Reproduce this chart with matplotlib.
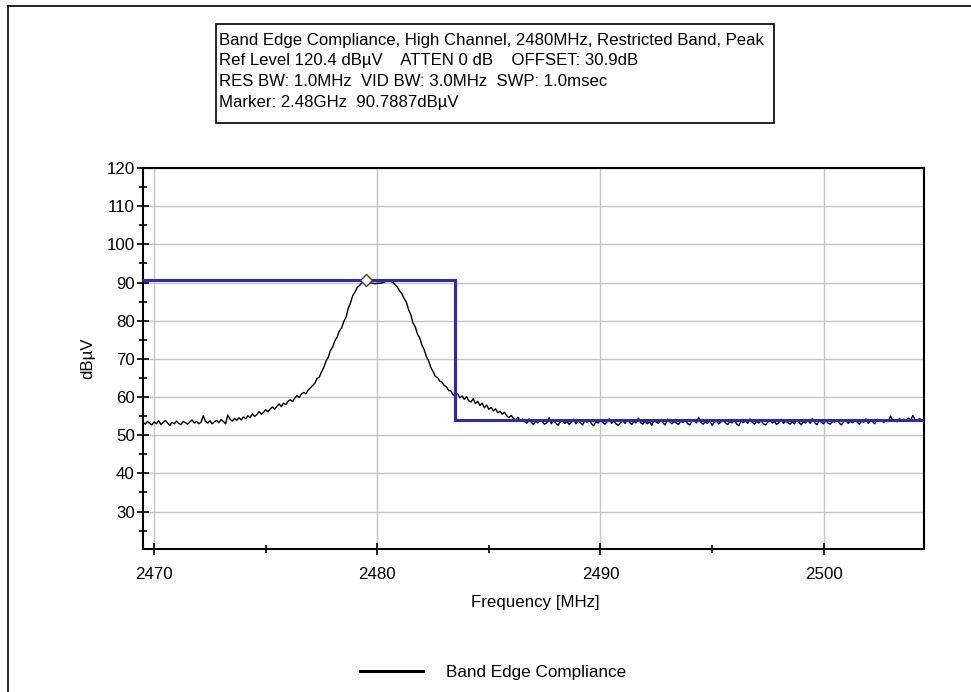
import numpy as np
import matplotlib
matplotlib.use("Agg")
import matplotlib.pyplot as plt
from matplotlib.lines import Line2D
from matplotlib.patches import Rectangle

plt.rcParams['font.family'] = ['Liberation Sans', 'DejaVu Sans']

# Sweep span (MHz) and measured trace (dBuV), one reading every 0.1 MHz
span_start = 2469.5
span_stop = 2504.5
trace_dbuv = [
    # 2469.5 - 2474.0
    53.4, 52.9, 53.6, 53.1, 52.7, 53.5, 53.0, 53.8, 52.8, 53.3,
    53.9, 53.2, 52.6, 53.4, 53.0, 53.7, 53.1, 52.8, 53.6, 53.3,
    52.9, 53.5, 54.0, 53.2, 53.6, 53.0, 53.4, 55.1, 53.6, 53.2,
    53.8, 53.0, 53.5, 53.9, 53.3, 54.1, 53.6, 53.0, 55.3, 54.2,
    53.7, 54.4, 53.9, 54.6, 54.0, 54.8,
    # 2474.1 - 2477.0
    54.3, 55.1, 54.6, 55.6, 54.9, 55.4, 56.2, 55.5, 56.0, 56.7,
    56.1, 56.9, 57.4, 56.8, 57.6, 58.2, 57.5, 58.4, 58.0, 58.9,
    59.3, 58.8, 59.7, 60.4, 59.9, 60.8, 61.2, 60.9, 61.8, 62.4,
    # 2477.1 - 2479.5
    63.0, 63.6, 64.9, 65.2, 66.6, 67.7, 69.4, 70.4, 72.2, 73.1,
    74.8, 75.7, 77.3, 78.1, 79.8, 80.9, 83.3, 84.7, 86.6, 87.5,
    88.7, 89.2, 89.9, 90.2, 90.7887,
    # 2479.6 - 2480.8
    90.2, 89.9, 89.8, 89.7, 89.8, 89.8, 89.9, 90.1, 90.3, 90.4,
    90.3, 90.0, 89.4,
    # 2480.9 - 2483.5
    88.8, 87.8, 87.1, 85.8, 84.9, 82.9, 81.6, 79.4, 78.4, 76.5,
    75.5, 73.6, 72.4, 70.6, 69.5, 67.7, 66.7, 65.4, 65.1, 64.2,
    63.9, 63.0, 62.7, 61.7, 61.6, 60.5, 60.6,
    # 2483.6 - 2486.5
    60.9, 59.8, 60.3, 59.4, 60.1, 59.0, 58.7, 59.6, 58.3, 58.9,
    57.8, 58.4, 57.2, 57.9, 56.8, 57.3, 56.4, 56.9, 55.9, 56.3,
    55.5, 56.0, 55.1, 54.6, 55.2, 54.4, 54.0, 54.7, 53.8, 54.2,
    # 2486.6 - 2504.5
    53.6, 53.1, 54.3, 53.4, 52.8, 53.7, 53.2, 54.0, 53.5, 52.9,
    53.3, 54.6, 53.0, 53.8, 53.2, 52.6, 53.5, 53.9, 53.1, 53.6,
    52.8, 53.4, 54.2, 53.0, 53.7, 53.3, 52.7, 53.8, 53.4, 54.1,
    53.0, 52.5, 53.6, 53.2, 53.9, 53.4, 52.9, 53.5, 54.4, 53.1,
    53.7, 53.0, 52.6, 53.3, 53.8, 53.1, 54.0, 53.4, 52.8, 53.6,
    53.2, 54.5, 53.3, 52.9, 53.7, 53.0, 53.5, 52.6, 53.9, 53.4,
    53.1, 53.8, 53.3, 52.7, 54.2, 53.5, 53.0, 53.6, 53.2, 52.8,
    53.7, 53.3, 54.0, 53.1, 52.7, 53.6, 53.9, 53.2, 54.7, 53.4,
    52.9, 53.5, 53.1, 53.8, 52.6, 53.4, 53.7, 53.0, 53.5, 54.1,
    53.3, 52.8, 53.6, 53.2, 53.9, 53.0, 52.5, 53.7, 53.3, 53.8,
    53.1, 54.3, 53.4, 52.9, 53.6, 53.2, 53.8, 53.0, 52.7, 53.5,
    53.9, 53.2, 53.6, 52.8, 53.4, 54.2, 53.1, 53.7, 53.3, 52.9,
    53.5, 53.0, 54.0, 53.4, 52.7, 53.6, 53.2, 53.9, 53.1, 54.4,
    53.3, 52.8, 53.7, 53.4, 53.0, 53.8, 53.2, 52.9, 53.6, 53.4,
    54.1, 53.2, 52.7, 53.5, 53.9, 53.1, 53.6, 53.3, 54.0, 53.5,
    52.9, 53.7, 53.4, 54.3, 53.1, 53.8, 53.5, 53.0, 54.2, 53.6,
    53.9, 53.3, 54.1, 53.6, 55.0, 53.8, 54.0, 53.5, 54.4, 53.9,
    54.2, 53.7, 54.5, 53.9, 55.2, 54.1, 53.8, 54.4, 53.6, 54.0,
]

# Limit / display line: marker level up to the restricted band edge, then 54 dBuV
band_edge_mhz = 2483.5
marker_freq_mhz = 2479.5
marker_level_dbuv = 90.7887
restricted_limit_dbuv = 54.0
limit_freqs = [span_start, band_edge_mhz, band_edge_mhz, span_stop]
limit_levels = [marker_level_dbuv, marker_level_dbuv, restricted_limit_dbuv, restricted_limit_dbuv]

x_ticks = [2470, 2480, 2490, 2500]
y_ticks = [30, 40, 50, 60, 70, 80, 90, 100, 110, 120]

header_lines = [
    "Band Edge Compliance, High Channel, 2480MHz, Restricted Band, Peak",
    "Ref Level 120.4 dB\u00b5V    ATTEN 0 dB    OFFSET: 30.9dB",
    "RES BW: 1.0MHz  VID BW: 3.0MHz  SWP: 1.0msec",
    "Marker: 2.48GHz  90.7887dB\u00b5V",
]

W, H = 971, 692
fig = plt.figure(figsize=(W / 100, H / 100), dpi=100)
fig.patch.set_facecolor("white")


def fx(px):
    return px / W


def fy(py):
    return 1 - py / H


ax = fig.add_axes([fx(143), fy(549), fx(924) - fx(143), fy(168) - fy(549)])

freqs = np.linspace(span_start, span_stop, len(trace_dbuv))
ax.plot(freqs, trace_dbuv, color="black", lw=1.0, zorder=3)
ax.plot(limit_freqs, limit_levels, color="#2a2ab8", lw=2.2, zorder=4,
        solid_joinstyle="miter")
ax.plot([marker_freq_mhz], [marker_level_dbuv], marker="D", ms=6.5,
        mfc="white", mec="#404040", mew=1.0, zorder=5)

ax.set_xlim(span_start, span_stop)
ax.set_ylim(20.2, 120)
ax.set_xticks(x_ticks)
ax.set_yticks(y_ticks)
ax.set_xticks([2475, 2485, 2495], minor=True)
ax.set_yticks(np.arange(25, 120, 10), minor=True)
ax.grid(True, which="major", color="#c4c4c4", lw=1.0, zorder=0)
ax.tick_params(which="major", direction="inout", length=8, width=1.2,
               labelsize=12.2, colors="black")
ax.tick_params(which="minor", direction="inout", length=6, width=1.2)
ax.tick_params(axis="x", which="major", pad=9)
ax.tick_params(axis="y", which="major", pad=2)
for s in ax.spines.values():
    s.set_linewidth(1.5)
    s.set_color("black")

fig.text(fx(88), fy(358), "dB\u00b5V", rotation=90, ha="center", va="center", fontsize=12.2)
fig.text(fx(535), fy(603), "Frequency [MHz]", ha="center", va="center", fontsize=12.2)

# Header box with instrument settings
fig.patches.append(Rectangle((fx(216), fy(123)), fx(774) - fx(216), fy(24) - fy(123),
                             transform=fig.transFigure, fill=False,
                             edgecolor="black", lw=1.2))
for i, line in enumerate(header_lines):
    fig.text(fx(219), fy(40 + i * 20.8), line, ha="left", va="center", fontsize=12.1)

# Legend entry
fig.lines.append(Line2D([fx(360), fx(423)], [fy(671), fy(671)],
                        transform=fig.transFigure, color="black", lw=2.2))
fig.text(fx(446), fy(672), "Band Edge Compliance", ha="left", va="center", fontsize=12.3)

# Outer window frame (left and top edges)
fig.lines.append(Line2D([fx(8), fx(8)], [0, fy(6)], transform=fig.transFigure,
                        color="black", lw=1.2))
fig.lines.append(Line2D([fx(8), 1.0], [fy(6), fy(6)], transform=fig.transFigure,
                        color="black", lw=1.2))

fig.savefig("out.png", dpi=100, facecolor="white")
